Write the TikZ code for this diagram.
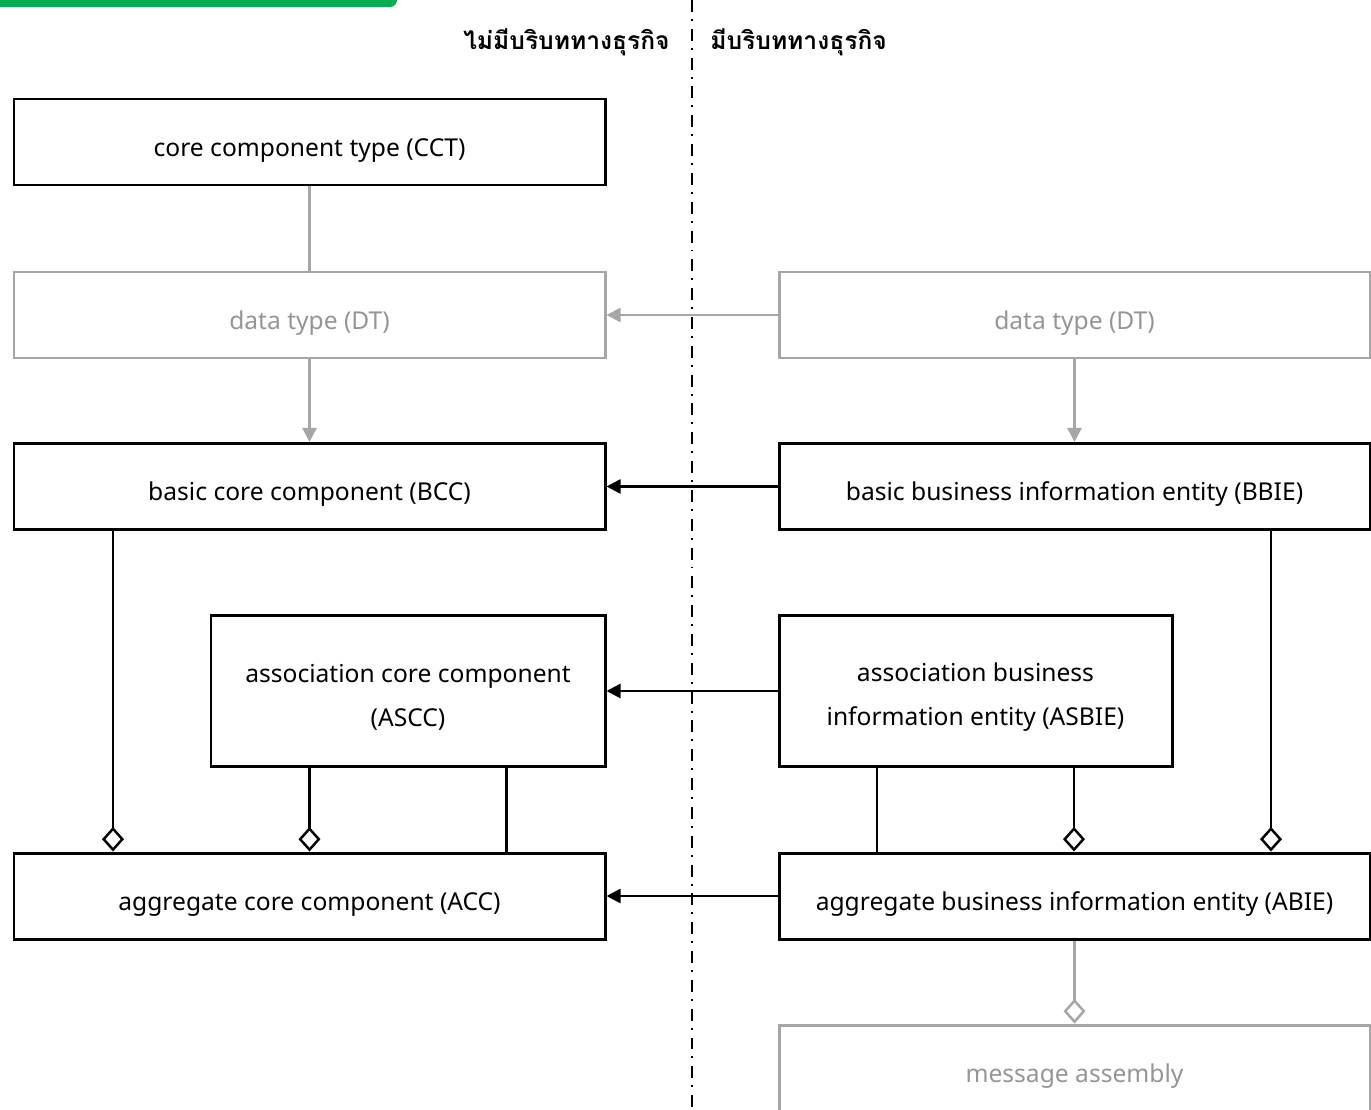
\documentclass[tikz,border=0pt]{standalone}
\usepackage{fontspec}
\setmainfont{Noto Sans}
\newfontfamily\thaifont[Script=Thai]{Loma}
\usetikzlibrary{arrows.meta,positioning,calc}

\definecolor{softgray}{HTML}{A6A6A6}
\definecolor{bargreen}{HTML}{00B050}

\tikzstyle{ccbox} = [draw = black, line width = 1.7pt, minimum width = 11.82cm, minimum height = 1.72cm, font = \fontsize{14}{17}\selectfont, align = center, text height = 17.4pt, text depth = 1pt]
\tikzstyle{twoline} = [text height = {}, text depth = {}, minimum height = 3.02cm]
\tikzstyle{dimbox} = [ccbox, draw = softgray, text = softgray!90!black]
\tikzstyle{uses} = [-{Triangle[length = 8pt, width = 8pt]}, line width = 1.4pt]
\tikzstyle{dimuses} = [uses, draw = softgray, fill = softgray]
\tikzstyle{agg} = [-{Diamond[open, length = 14pt, width = 12.5pt]}, line width = 1.4pt]
\tikzstyle{dimagg} = [agg, draw = softgray]
\tikzstyle{plainlink} = [line width = 1.4pt]
\tikzstyle{ctxhead} = [font = \thaifont\bfseries\fontsize{14}{17}\selectfont, inner sep = 0pt]

\begin{document}
\begin{tikzpicture}
			\useasboundingbox (0,0) rectangle (27.42,-22.2);
			\fill[bargreen, rounded corners = 0.14cm] (-1,0.5) rectangle (7.94,-0.14);
			% context divider
			\coordinate (divtop) at (13.84,0);
			\coordinate (divbot) at (13.84,-22.2);
			\draw[line width = 1.2pt, dash pattern = on 6.8pt off 4pt on 1.1pt off 4.5pt] (divtop) -- (divbot);
			\node[ctxhead, anchor = east] (nobiz) at (13.40,-0.84) {ไม่มีบริบททางธุรกิจ};
			\node[ctxhead, anchor = west] (biz) at (14.2,-0.84) {มีบริบททางธุรกิจ};
			% left column
			\node[ccbox] (CCT) at (6.19,-2.84) {core component type (CCT)};
			\node[dimbox] (DTL) at (6.19,-6.30) {data type (DT)};
			\node[ccbox] (BCC) at (6.19,-9.73) {basic core component (BCC)};
			\node[ccbox, twoline, minimum width = 7.88cm] (ASCC) at (8.16,-13.82) {\rule{0pt}{17.5pt}association core component\\[8.5pt](ASCC)};
			\node[ccbox] (ACC) at (6.19,-17.92) {aggregate core component (ACC)};
			% right column
			\node[dimbox] (DTR) at (21.49,-6.30) {data type (DT)};
			\node[ccbox] (BBIE) at (21.49,-9.73) {basic business information entity (BBIE)};
			\node[ccbox, twoline, minimum width = 7.86cm] (ASBIE) at (19.51,-13.82) {\rule{0pt}{17.5pt}association business\\[8.5pt]information entity (ASBIE)};
			\node[ccbox] (ABIE) at (21.49,-17.92) {aggregate business information entity (ABIE)};
			\node[dimbox] (MA) at (21.49,-21.36) {message assembly};
			% links
			\draw[softgray, plainlink] (CCT) -- (DTL);
			\draw[dimuses] (DTL) -- (BCC);
			\draw[dimuses] (DTR) -- (BBIE);
			\draw[dimuses] (DTR) -- (DTL);
			\draw[uses] (BBIE) -- (BCC);
			\draw[uses] (ASBIE) -- (ASCC);
			\draw[uses] (ABIE) -- (ACC);
			\draw[agg] ([xshift = -3.93cm]BCC.south) -- ([xshift = -3.93cm]BCC.south |- ACC.north);
			\draw[agg] ([xshift = -1.97cm]ASCC.south) -- ([xshift = -1.97cm]ASCC.south |- ACC.north);
			\draw[plainlink] ([xshift = 1.97cm]ASCC.south) -- ([xshift = 1.97cm]ASCC.south |- ACC.north);
			\draw[plainlink] ([xshift = -1.97cm]ASBIE.south) -- ([xshift = -1.97cm]ASBIE.south |- ABIE.north);
			\draw[agg] ([xshift = 1.97cm]ASBIE.south) -- ([xshift = 1.97cm]ASBIE.south |- ABIE.north);
			\draw[agg] ([xshift = 3.93cm]BBIE.south) -- ([xshift = 3.93cm]BBIE.south |- ABIE.north);
			\draw[dimagg] (ABIE) -- (MA);
		\end{tikzpicture}
\end{document}
